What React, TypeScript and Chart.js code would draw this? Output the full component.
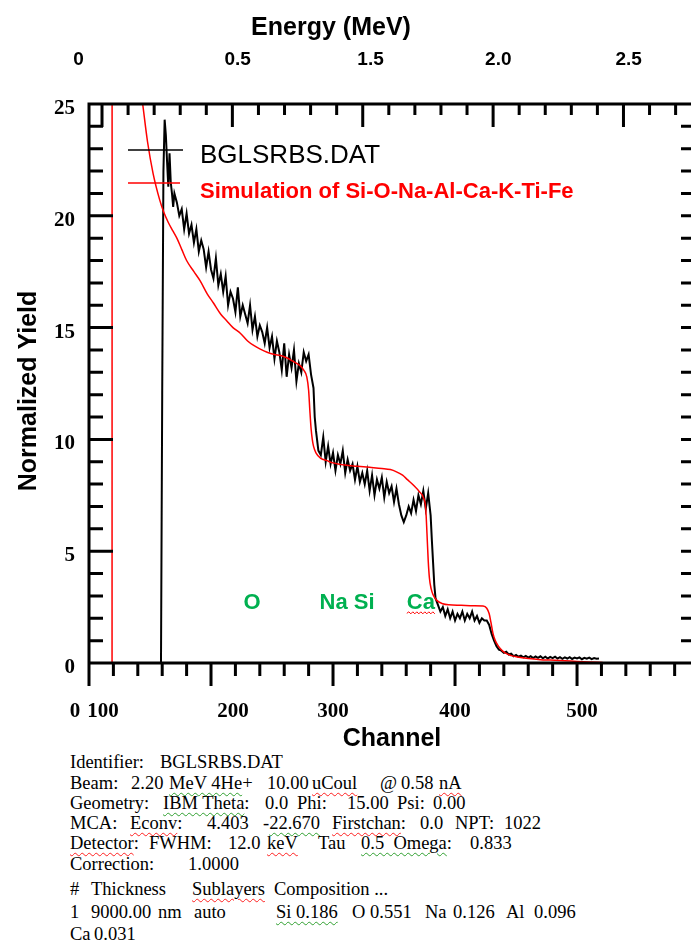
import React, { useEffect, useRef } from "react";
import { Chart, registerables } from "chart.js";

Chart.register(...registerables);

// ---- measured spectrum (BGLSRBS.DAT) ----
const measuredChannel = [
  150, 159, 160, 161, 162, 163, 164, 165, 166, 167, 168, 169, 170,
  172, 174, 176, 178, 180, 182, 184, 186, 188, 190, 192, 194, 196, 198,
  200, 202, 204, 206, 208, 210, 212, 214, 216, 218, 220, 222, 224, 226, 228,
  230, 232, 234, 236, 238, 240, 242, 244, 246, 248, 250, 252, 254, 256, 258,
  260, 262, 264, 266, 268, 270, 272, 274, 276, 278, 280, 282, 284, 285, 286, 288,
  290, 292, 294, 296, 298, 300, 302, 304, 306, 308, 310, 312, 314, 316, 318,
  320, 322, 324, 326, 328, 330, 332, 334, 336, 338, 340, 342, 344, 346, 348,
  350, 352, 354, 356, 358, 360, 362, 364, 366, 368, 370, 372, 374, 376, 378,
  380, 381, 382, 383, 384, 386, 388, 390, 392, 394, 396, 398,
  400, 402, 404, 406, 408, 410, 412, 414, 416, 418, 420, 422, 424, 426, 428,
  430, 432, 434, 436, 438, 440, 442, 444, 446, 448, 450, 452, 454, 456, 458,
  460, 462, 464, 466, 468, 470, 472, 474, 476, 478, 480, 482, 484, 486, 488,
  490, 492, 494, 496, 498, 500, 502, 504, 506, 508, 510, 512, 514, 516, 518,
];
const measuredYield = [
  0, 0, 12, 22, 24.3, 23.6, 22.4, 21.3, 22.8, 21.5, 21.0, 20.4, 21.0,
  20.6, 20.0, 20.3, 19.4, 20.1, 19.2, 19.6, 18.8, 19.4, 18.4, 18.9, 18.5, 17.7, 18.4,
  17.6, 17.2, 18.1, 16.9, 17.4, 16.6, 17.3, 16.0, 16.6, 16.3, 15.7, 16.8, 15.5, 16.0, 15.6,
  15.2, 16.0, 14.9, 15.5, 14.6, 15.1, 14.8, 14.3, 15.0, 14.1, 14.6, 13.6, 14.4, 13.9, 13.1,
  14.3, 12.8, 13.8, 13.2, 14.0, 12.6, 13.4, 13.0, 13.9, 13.5, 13.8, 12.9, 12.3, 11.0, 10.4, 9.5,
  9.3, 10.1, 9.0, 9.7, 8.9, 9.4, 8.6, 9.3, 8.9, 9.5, 8.5, 9.1, 8.6, 8.9, 8.2,
  8.8, 8.1, 8.5, 8.0, 8.6, 7.7, 8.4, 7.5, 8.2, 7.8, 8.3, 7.4, 8.1, 7.6, 7.9,
  7.2, 7.8, 7.1, 6.6, 6.3, 6.6, 7.0, 6.7, 7.3, 6.8, 7.5, 7.1, 7.7, 6.9, 7.6,
  6.6, 5.5, 4.5, 3.5, 2.9, 2.6, 2.3, 2.5, 2.1, 2.4, 2.0, 2.3,
  1.9, 2.2, 2.0, 2.3, 1.9, 2.2, 2.0, 2.3, 1.9, 2.1, 1.8, 2.0, 1.9, 1.9, 1.7,
  1.3, 1.0, 0.75, 0.6, 0.55, 0.45, 0.5, 0.38, 0.42, 0.3, 0.36, 0.28, 0.33, 0.25, 0.32,
  0.24, 0.3, 0.22, 0.29, 0.23, 0.3, 0.21, 0.28, 0.2, 0.27, 0.22, 0.28, 0.2, 0.26, 0.19,
  0.25, 0.2, 0.26, 0.18, 0.24, 0.2, 0.25, 0.17, 0.23, 0.19, 0.24, 0.17, 0.22, 0.19, 0.2,
];

// ---- simulation ----
const simChannel = [
  118.9, 119, 125, 132, 138, 144, 148, 152.5, 158, 161, 165, 169, 172, 176, 180,
  186, 191, 197, 202, 208, 213, 218, 224, 230, 235, 240, 246, 252, 257, 262,
  267, 273, 276, 278.5, 280, 281, 282, 283, 284, 286, 290, 295, 300, 310, 320,
  330, 340, 347, 352, 357, 361, 366, 371, 374, 376, 377, 378, 379, 380.5, 382,
  385, 390, 395, 405, 415, 423, 426, 428, 429.5, 431, 433, 435, 437, 441, 446,
  451, 460, 470, 478, 490, 500, 510, 521,
];
const simYield = [
  0, 60, 38, 31, 27.5, 25, 23.3, 21.9, 20.7, 20.2, 19.7, 19.3, 19.0, 18.5, 18.0,
  17.5, 17.1, 16.5, 16.1, 15.6, 15.3, 15.0, 14.75, 14.4, 14.2, 14.05, 13.9, 13.8, 13.75, 13.65,
  13.5, 13.3, 13.1, 12.8, 12.2, 11.3, 10.5, 10.0, 9.7, 9.4, 9.15, 9.05, 8.95, 8.85, 8.8,
  8.75, 8.7, 8.65, 8.55, 8.4, 8.2, 7.95, 7.65, 7.4, 6.9, 5.8, 4.6, 3.8, 3.3, 3.05,
  2.8, 2.65, 2.6, 2.58, 2.56, 2.55, 2.45, 2.2, 1.8, 1.35, 1.0, 0.8, 0.65, 0.45, 0.33,
  0.27, 0.2, 0.15, 0.13, 0.1, 0.07, 0.05, 0.02,
];

// ---- tick labels ----
const channelTickLabels = ["0", "100", "200", "300", "400", "500"];
const channelTickLabelAt = [88.5, 111.5, 218, 300, 400, 504];
const energyTickLabels = ["0", "0.5", "1.5", "2.0", "2.5"];
const energyTickLabelAt = [-0.09, 0.52, 1.03, 1.52, 2.02];
const yieldTickLabels = ["0", "5", "10", "15", "20", "25"];
const yieldTickValues = [0, 5, 10, 15, 20, 25];

// ---- element markers ----
const elementLabels = ["O", "Na Si", "Ca"];
const elementLabelChannel = [233.6, 311.5, 372];
const elementLabelYield = 2.4;

const legendNames = ["BGLSRBS.DAT", "Simulation of Si-O-Na-Al-Ca-K-Ti-Fe"];

const SANS = "'Liberation Sans', Arial, sans-serif";
const SERIF = "'Liberation Serif', 'Times New Roman', serif";

const decorPlugin = {
  id: "decor",
  afterDraw(chart: any) {
    const ctx: CanvasRenderingContext2D = chart.ctx;
    const { left, right, top, bottom } = chart.chartArea;
    const xs = chart.scales.x;
    const xe = chart.scales.xe;
    const ys = chart.scales.y;
    const seg = (x1: number, y1: number, x2: number, y2: number) => {
      ctx.moveTo(x1, y1);
      ctx.lineTo(x2, y2);
    };
    ctx.save();
    ctx.strokeStyle = "#000";
    ctx.lineWidth = 3;
    ctx.lineCap = "butt";
    ctx.beginPath();
    seg(left - 1.5, top, right, top);
    seg(left - 1.5, bottom, right, bottom);
    seg(left, top, left, bottom + 1.5);
    for (let c = 100; c <= xs.max + 0.01; c += 20) {
      const px = xs.getPixelForValue(c);
      const len = c % 100 === 0 ? 23 : 13;
      seg(px, bottom, px, bottom + len);
    }
    for (let i = 0; i * 0.1 <= xe.max; i++) {
      const px = xe.getPixelForValue(i * 0.1);
      const len = i % 5 === 0 ? 23 : 11;
      seg(px, top, px, top + len);
    }
    for (let v = 1; v < 25; v++) {
      const py = ys.getPixelForValue(v);
      const len = v % 5 === 0 ? 24 : 14;
      seg(left, py, left + len, py);
      seg(right, py, right - 10, py);
    }
    ctx.stroke();

    ctx.fillStyle = "#000";
    ctx.font = `bold 21px ${SERIF}`;
    ctx.textAlign = "center";
    ctx.textBaseline = "alphabetic";
    channelTickLabels.forEach((t, i) => {
      ctx.fillText(t, xs.getPixelForValue(channelTickLabelAt[i]), bottom + 54);
    });
    ctx.textAlign = "right";
    yieldTickLabels.forEach((t, i) => {
      ctx.fillText(t, left - 14, ys.getPixelForValue(yieldTickValues[i]) + 10);
    });
    ctx.font = `bold 19px ${SANS}`;
    ctx.textAlign = "center";
    energyTickLabels.forEach((t, i) => {
      ctx.fillText(t, xe.getPixelForValue(energyTickLabelAt[i]), 65);
    });

    ctx.font = `bold 25px ${SANS}`;
    ctx.fillText("Energy (MeV)", 331, 35);
    ctx.fillText("Channel", 392, 746);
    ctx.save();
    ctx.translate(36, 391);
    ctx.rotate(-Math.PI / 2);
    ctx.fillText("Normalized Yield", 0, 0);
    ctx.restore();

    // legend
    ctx.lineWidth = 1.6;
    ctx.strokeStyle = "#000";
    ctx.beginPath();
    seg(128, 150, 183, 150);
    ctx.stroke();
    ctx.strokeStyle = "#ff0000";
    ctx.beginPath();
    seg(128, 183, 180, 183);
    ctx.stroke();
    ctx.textAlign = "left";
    ctx.fillStyle = "#000";
    ctx.font = `26px ${SANS}`;
    ctx.fillText(legendNames[0], 200, 163);
    ctx.fillStyle = "#ff0000";
    ctx.font = `bold 22px ${SANS}`;
    ctx.fillText(legendNames[1], 200, 198);

    // element labels
    ctx.fillStyle = "#00b050";
    ctx.font = `bold 22px ${SANS}`;
    ctx.textAlign = "center";
    const ey = ys.getPixelForValue(elementLabelYield);
    elementLabels.forEach((t, i) => {
      ctx.fillText(t, xs.getPixelForValue(elementLabelChannel[i]), ey);
    });
    const caW = ctx.measureText(elementLabels[2]).width;
    const cx = xs.getPixelForValue(elementLabelChannel[2]);
    ctx.strokeStyle = "#ff0000";
    ctx.lineWidth = 1;
    ctx.beginPath();
    let up = true;
    ctx.moveTo(cx - caW / 2, ey + 4);
    for (let x = cx - caW / 2 + 2; x <= cx + caW / 2; x += 2) {
      ctx.lineTo(x, ey + (up ? 2.5 : 4.5));
      up = !up;
    }
    ctx.stroke();
    ctx.restore();
  },
};

const R = { textDecorationLine: "underline", textDecorationStyle: "wavy", textDecorationColor: "#ff2020", textDecorationThickness: "1px", textUnderlineOffset: "3px" } as React.CSSProperties;
const G = { ...R, textDecorationColor: "#30a030" } as React.CSSProperties;

type Piece = [number, React.ReactNode];
const infoLines: { top: number; pieces: Piece[] }[] = [
  { top: 752, pieces: [[70, "Identifier:"], [160, "BGLSRBS.DAT"]] },
  { top: 773, pieces: [[70, "Beam:"], [131, "2.20"], [169, <><span style={G}>MeV 4He</span>+</>], [267, "10.00"], [312, <span style={R}>uCoul</span>], [380, "@"], [401, "0.58"], [439, <span style={R}>nA</span>]] },
  { top: 793, pieces: [[70, "Geometry:"], [163, <><span style={G}>IBM Theta</span>:</>], [265, "0.0"], [297, "Phi:"], [347, "15.00"], [397, "Psi:"], [433, "0.00"]] },
  { top: 813, pieces: [[70, "MCA:"], [130, <><span style={R}>Econv</span>:</>], [207, "4.403"], [263, <>-<span style={G}>22.670</span></>], [332, <><span style={R}>Firstchan</span>:</>], [420, "0.0"], [455, "NPT:"], [504, "1022"]] },
  { top: 833, pieces: [[70, <><span style={R}>Detector</span>:</>], [149, "FWHM:"], [228, "12.0"], [267, <span style={R}>keV</span>], [318, "Tau"], [361, <><span style={G}>0.5  Omega</span>:</>], [470, "0.833"]] },
  { top: 854, pieces: [[70, "Correction:"], [188, "1.0000"]] },
  { top: 879, pieces: [[70, "#"], [91, "Thickness"], [192, <span style={R}>Sublayers</span>], [274, "Composition ..."]] },
  { top: 902, pieces: [[70, "1"], [91, "9000.00"], [158, "nm"], [194, "auto"], [276, <span style={G}>Si 0.186</span>], [352, "O"], [370, "0.551"], [425, "Na"], [453, "0.126"], [506, "Al"], [534, "0.096"]] },
  { top: 924, pieces: [[70, <span style={R}>Ca</span>], [94, <span style={G}>0.031</span>]] },
];

export default function App() {
  const ref = useRef<HTMLCanvasElement | null>(null);
  useEffect(() => {
    if (!ref.current) return;
    const chart = new Chart(ref.current, {
      type: "line",
      data: {
        datasets: [
          {
            label: legendNames[0],
            data: measuredChannel.map((c, i) => ({ x: c, y: measuredYield[i] })),
            borderColor: "#000000",
            borderWidth: 2,
            pointRadius: 0,
            tension: 0,
            order: 2,
          },
          {
            label: legendNames[1],
            data: simChannel.map((c, i) => ({ x: c, y: simYield[i] })),
            borderColor: "#ff0000",
            borderWidth: 1.5,
            pointRadius: 0,
            cubicInterpolationMode: "monotone",
            order: 1,
          },
        ],
      },
      options: {
        animation: false,
        responsive: false,
        devicePixelRatio: 1,
        layout: { padding: { left: 89, top: 104, right: 0, bottom: 87 } },
        plugins: {
          legend: { display: false },
          tooltip: { enabled: false },
          title: { display: false },
        },
        scales: {
          x: { type: "linear", min: 100, max: 593.4, display: false },
          xe: { type: "linear", position: "top", min: -0.0499, max: 2.259, display: false },
          y: { type: "linear", min: 0, max: 25, display: false },
        },
      },
      plugins: [decorPlugin],
    } as any);
    return () => chart.destroy();
  }, []);

  return (
    <div style={{ position: "absolute", left: 0, top: 0, width: 691, height: 942, background: "#fff", overflow: "hidden" }}>
      <canvas ref={ref} width={691} height={750} style={{ position: "absolute", left: 0, top: 0, width: 691, height: 750 }} />
      {infoLines.map((line, i) => (
        <div key={i} style={{ position: "absolute", left: 0, top: line.top, width: 691, height: 20 }}>
          {line.pieces.map(([x, node], j) => (
            <span
              key={j}
              style={{
                position: "absolute",
                left: x,
                top: 0,
                fontFamily: SERIF,
                fontSize: 18.5,
                lineHeight: "20px",
                whiteSpace: "pre",
                color: "#000",
              }}
            >
              {node}
            </span>
          ))}
        </div>
      ))}
    </div>
  );
}
